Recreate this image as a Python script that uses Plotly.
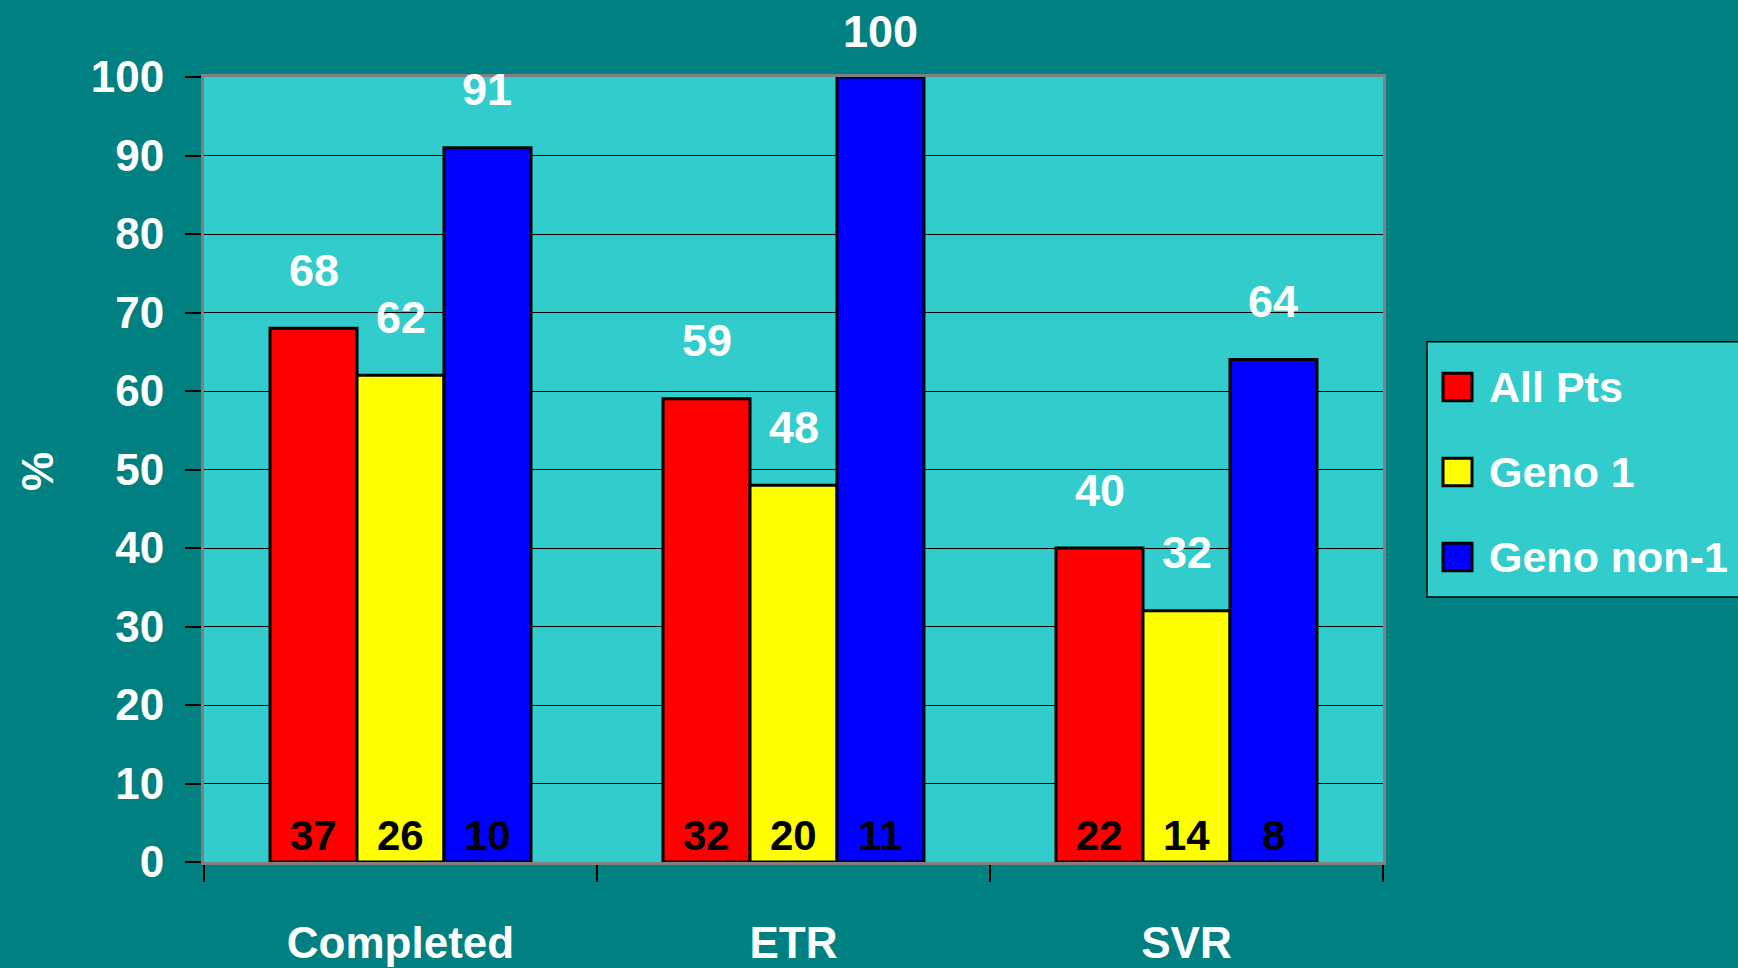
import plotly.graph_objects as go

# data
categories = ["Completed", "ETR", "SVR"]
series_names = ["All Pts", "Geno 1", "Geno non-1"]
series_colors = ["#FF0000", "#FFFF00", "#0000FF"]
pct_all = [68, 59, 40]
pct_geno1 = [62, 48, 32]
pct_non1 = [91, 100, 64]
n_all = [37, 32, 22]
n_geno1 = [26, 20, 14]
n_non1 = [10, 11, 8]
y_ticks = [0, 10, 20, 30, 40, 50, 60, 70, 80, 90, 100]

percents = [pct_all, pct_geno1, pct_non1]
counts = [n_all, n_geno1, n_non1]

FONT = "Liberation Sans Narrow, Arial Narrow, Liberation Sans, Arial, sans-serif"
BG = "#008080"
PLOT_BG = "#33CCCC"
BARGAP = 0.336

fig = go.Figure()

for name, color, vals in zip(series_names, series_colors, percents):
    fig.add_trace(go.Bar(
        x=categories,
        y=vals,
        name=name,
        marker=dict(color=color, line=dict(color="black", width=3)),
        showlegend=False,
        hoverinfo="skip",
    ))

# value labels above bars and counts at the bottom of bars
bar_w = (1 - BARGAP) / len(series_names)
for j, (vals, ns) in enumerate(zip(percents, counts)):
    off = (j - (len(series_names) - 1) / 2) * bar_w
    for i in range(len(categories)):
        # labels near the top get squeezed so they stay on the page
        shift = min(58, 46 + (100 - vals[i]) * 7.84)
        fig.add_annotation(
            x=i + off, y=vals[i], xref="x", yref="y",
            text="<b>%d</b>" % vals[i], showarrow=False,
            xanchor="center", yanchor="middle", yshift=shift,
            font=dict(family=FONT, size=45, color="white"),
        )
        fig.add_annotation(
            x=i + off, y=0, xref="x", yref="y",
            text="<b>%d</b>" % ns[i], showarrow=False,
            xanchor="center", yanchor="middle", yshift=27,
            font=dict(family=FONT, size=42, color="black"),
        )

# y axis title
fig.add_annotation(
    x=-0.1416, y=0.4968, xref="paper", yref="paper",
    text="<b>%</b>", textangle=-90, showarrow=False,
    xanchor="center", yanchor="middle",
    font=dict(family=FONT, size=44, color="white"),
)

# hand-made legend box (bigger swatches than plotly's legend allows)
fig.add_shape(type="rect", xref="paper", yref="paper",
              x0=1.0373, x1=1.35, y0=0.3375, y1=0.6626,
              fillcolor=PLOT_BG, line=dict(color="black", width=1.5), layer="above")
row_y = [0.6052, 0.4968, 0.3885]
for name, color, yy in zip(series_names, series_colors, row_y):
    fig.add_shape(type="rect", xref="paper", yref="paper",
                  x0=1.0509, x1=1.0755, y0=yy - 0.0175, y1=yy + 0.0175,
                  fillcolor=color, line=dict(color="black", width=3), layer="above")
    fig.add_annotation(
        x=1.0882, y=yy, xref="paper", yref="paper",
        text="<b>%s</b>" % name, showarrow=False,
        xanchor="left", yanchor="middle",
        font=dict(family=FONT, size=43, color="white"),
    )

fig.update_layout(
    width=1738,
    height=968,
    paper_bgcolor=BG,
    plot_bgcolor=PLOT_BG,
    barmode="group",
    bargap=BARGAP,
    bargroupgap=0,
    margin=dict(l=204, r=355, t=77, b=106),
    font=dict(family=FONT, color="white"),
    xaxis=dict(
        type="category",
        automargin=False,
        showline=True, linecolor="#808080", linewidth=3, mirror=True,
        ticks="outside", tickson="boundaries", ticklen=17, tickcolor="black", tickwidth=1.5,
        tickfont=dict(family=FONT, size=44, color="white", weight="bold"),
        ticklabelstandoff=40,
        showgrid=False,
    ),
    yaxis=dict(
        range=[0, 100],
        automargin=False,
        tickvals=y_ticks,
        showline=True, linecolor="#808080", linewidth=3, mirror=True,
        ticks="outside", ticklen=16, tickcolor="black", tickwidth=1.5,
        tickfont=dict(family=FONT, size=44, color="white", weight="bold"),
        ticklabelstandoff=12,
        showgrid=True, gridcolor="black", gridwidth=1,
        zeroline=False,
    ),
)

# page body margin would shift the figure and show white edges
fig.write_html("out.html", config={"displayModeBar": False},
               post_script="document.body.style.margin='0';")
